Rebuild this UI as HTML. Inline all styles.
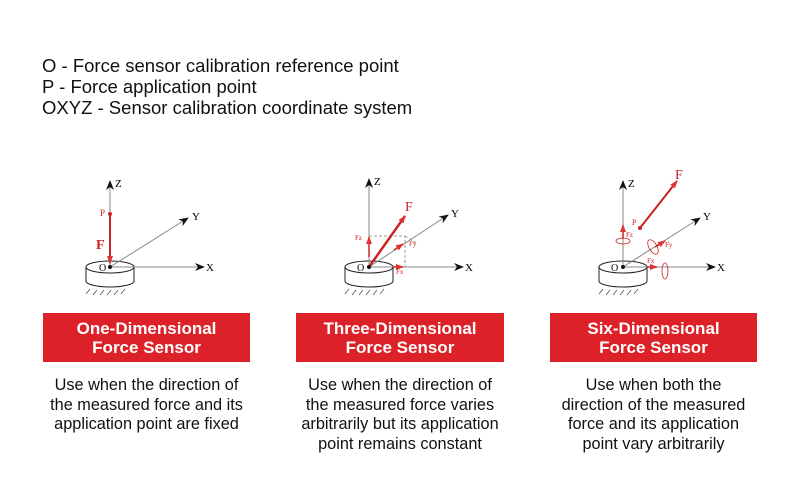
<!DOCTYPE html>
<html><head><meta charset="utf-8"><style>
body{margin:0;width:800px;height:500px;background:#fff;font-family:"Liberation Sans",Arial,sans-serif;position:relative;overflow:hidden;color:#111}
.hdr{position:absolute;left:42px;top:55px;font-size:18.5px;line-height:21px}
.box{position:absolute;top:313px;height:49px;background:#dc2128;color:#fff;font-weight:bold;font-size:17px;line-height:19px;text-align:center;display:flex;align-items:center;justify-content:center}
.txt{position:absolute;top:376px;font-size:16.3px;line-height:19.5px;text-align:center}
svg{position:absolute;left:0;top:0}
</style></head><body>
<div class="hdr">O - Force sensor calibration reference point<br>P - Force application point<br>OXYZ - Sensor calibration coordinate system</div>
<svg width="800" height="500" font-family="Liberation Serif,serif">
<defs>
<marker id="ak" markerWidth="10" markerHeight="8" refX="9" refY="4" orient="auto" markerUnits="userSpaceOnUse"><path d="M0,0L10,4L0,8L3,4z" fill="#111"/></marker>
<marker id="ar" markerWidth="8" markerHeight="6" refX="7" refY="3" orient="auto" markerUnits="userSpaceOnUse"><path d="M0,0L8,3L0,6z" fill="#d33"/></marker>
<g id="base">
<path d="M-24,0 v14 a24,6 0 0 0 48,0 v-14" fill="#fff" stroke="#222" stroke-width="1"/>
<ellipse cx="0" cy="0" rx="24" ry="6" fill="#fff" stroke="#222" stroke-width="1"/>
<path d="M-20,22 l-4,5 M-13,23 l-4,5 M-6,23 l-4,5 M1,23 l-4,5 M8,23 l-4,5 M15,22 l-4,5" stroke="#555" stroke-width="0.8"/>
</g>
</defs>
<!-- panel 1 -->
<g transform="translate(110,267)">
<use href="#base"/>
<line x1="0" y1="0" x2="0" y2="-86" stroke="#888" marker-end="url(#ak)"/>
<line x1="0" y1="0" x2="94" y2="0" stroke="#888" marker-end="url(#ak)"/>
<line x1="0" y1="0" x2="78" y2="-49" stroke="#888" marker-end="url(#ak)"/>
<line x1="0" y1="-53" x2="0" y2="-4" stroke="#c22" stroke-width="2" marker-end="url(#ar)"/>
<circle cx="0" cy="-53" r="2" fill="#c22"/><circle cx="0" cy="0" r="2" fill="#111"/>
<text x="5" y="-80" font-size="11">Z</text><text x="82" y="-47" font-size="11">Y</text><text x="96" y="4" font-size="11">X</text>
<text x="-11" y="4" font-size="10">O</text><text x="-10" y="-51" font-size="9" fill="#c22">P</text><text x="-14" y="-18" font-size="14" fill="#c22" font-weight="bold">F</text>
</g>
<!-- panel 2 -->
<g transform="translate(369,267)">
<use href="#base"/>
<line x1="0" y1="0" x2="0" y2="-88" stroke="#888" marker-end="url(#ak)"/>
<line x1="0" y1="0" x2="94" y2="0" stroke="#888" marker-end="url(#ak)"/>
<line x1="0" y1="0" x2="79" y2="-52" stroke="#888" marker-end="url(#ak)"/>
<path d="M0,-31 H36 V0 M36,-31 L47,-24" stroke="#999" stroke-dasharray="3,2" fill="none"/>
<line x1="0" y1="0" x2="36" y2="-51" stroke="#c22" stroke-width="2.5" marker-end="url(#ar)"/>
<line x1="0" y1="-10" x2="0" y2="-30" stroke="#c22" stroke-width="1.5" marker-end="url(#ar)"/>
<line x1="25" y1="-17" x2="34" y2="-23" stroke="#c22" stroke-width="1.5" marker-end="url(#ar)"/>
<line x1="24" y1="0" x2="34" y2="0" stroke="#c22" stroke-width="1.5" marker-end="url(#ar)"/>
<circle cx="0" cy="0" r="2" fill="#111"/>
<text x="5" y="-82" font-size="11">Z</text><text x="82" y="-50" font-size="11">Y</text><text x="96" y="4" font-size="11">X</text>
<text x="-12" y="4" font-size="10">O</text><text x="36" y="-56" font-size="14" fill="#c22">F</text>
<text x="-14" y="-27" font-size="7" fill="#c22">Fz</text><text x="40" y="-21" font-size="7" fill="#c22">Fy</text><text x="27" y="7" font-size="7" fill="#c22">Fx</text>
</g>
<!-- panel 3 -->
<g transform="translate(623,267)">
<use href="#base"/>
<line x1="0" y1="0" x2="0" y2="-86" stroke="#888" marker-end="url(#ak)"/>
<line x1="0" y1="0" x2="92" y2="0" stroke="#888" marker-end="url(#ak)"/>
<line x1="0" y1="0" x2="77" y2="-49" stroke="#888" marker-end="url(#ak)"/>
<line x1="17" y1="-39" x2="54" y2="-86" stroke="#c22" stroke-width="2" marker-end="url(#ar)"/>
<circle cx="17" cy="-39" r="2" fill="#c22"/>
<line x1="0" y1="-28" x2="0" y2="-42" stroke="#c22" stroke-width="1.5" marker-end="url(#ar)"/>
<line x1="32" y1="-20" x2="42" y2="-26" stroke="#c22" stroke-width="1.5" marker-end="url(#ar)"/>
<line x1="24" y1="0" x2="34" y2="0" stroke="#c22" stroke-width="1.5" marker-end="url(#ar)"/>
<ellipse cx="0" cy="-26" rx="7" ry="3" fill="none" stroke="#c22" stroke-width="0.8"/>
<ellipse cx="30" cy="-20" rx="4" ry="8" fill="none" stroke="#c22" stroke-width="0.8" transform="rotate(-30 30 -20)"/>
<ellipse cx="42" cy="4" rx="3" ry="8" fill="none" stroke="#c22" stroke-width="0.8"/>
<circle cx="0" cy="0" r="2" fill="#111"/>
<text x="5" y="-80" font-size="11">Z</text><text x="80" y="-47" font-size="11">Y</text><text x="94" y="4" font-size="11">X</text>
<text x="-12" y="4" font-size="10">O</text><text x="52" y="-88" font-size="14" fill="#c22">F</text>
<text x="9" y="-42" font-size="8" fill="#c22">P</text>
<text x="3" y="-30" font-size="7" fill="#c22">Fz</text><text x="42" y="-20" font-size="7" fill="#c22">Fy</text><text x="24" y="-4" font-size="7" fill="#c22">Fx</text>
</g>
</svg>
<div class="box" style="left:43px;width:207px">One-Dimensional<br>Force Sensor</div>
<div class="box" style="left:296px;width:208px">Three-Dimensional<br>Force Sensor</div>
<div class="box" style="left:550px;width:207px">Six-Dimensional<br>Force Sensor</div>
<div class="txt" style="left:28px;width:237px">Use when the direction of<br>the measured force and its<br>application point are fixed</div>
<div class="txt" style="left:281px;width:238px">Use when the direction of<br>the measured force varies<br>arbitrarily but its application<br>point remains constant</div>
<div class="txt" style="left:535px;width:237px">Use when both the<br>direction of the measured<br>force and its application<br>point vary arbitrarily</div>
</body></html>
